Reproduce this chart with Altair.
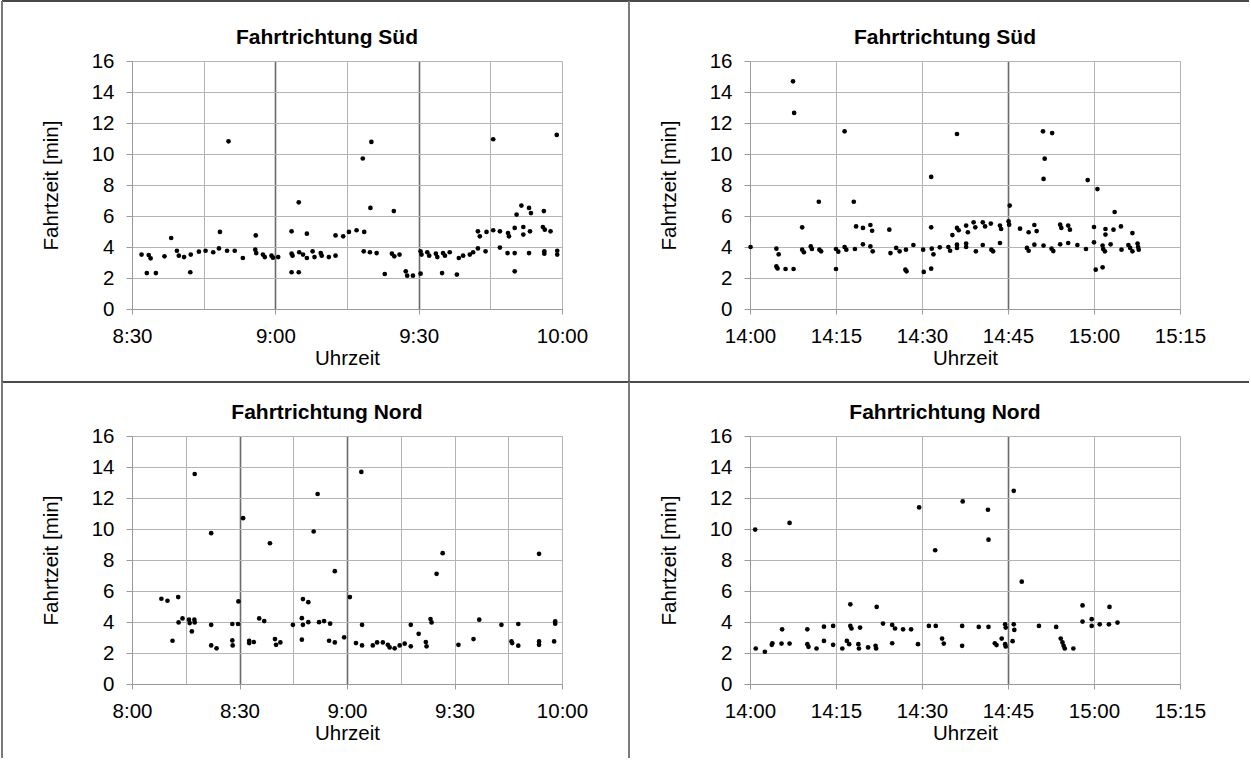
import altair as alt
import pandas as pd

# ---------------- data (clock time in minutes after midnight, travel time in min) ----
# Panel 1: Fahrtrichtung Süd, morning
sued_am_t = [512.0, 513.5, 513.9, 513.1, 515.0, 516.8, 518.2, 519.4, 519.8, 520.9,
             522.3, 522.2, 524.0, 525.4, 527.0, 528.2, 528.4, 529.9, 530.2, 531.5,
             533.2, 535.9, 535.8, 536.0, 537.4, 537.8, 539.2, 539.5, 540.6, 543.4,
             543.4, 543.6, 543.4, 544.9, 544.9, 545.0, 545.8, 546.6, 546.6, 547.8,
             548.2, 549.5, 549.7, 551.2, 552.6, 552.6, 554.2, 555.4, 557.0, 558.3,
             558.6, 558.5, 559.9, 559.8, 560.1, 561.2, 562.9, 564.4, 564.8, 564.9,
             566.0, 567.3, 567.6, 568.8, 570.4, 570.4, 570.6, 571.8, 572.2, 573.6,
             573.9, 574.9, 575.1, 575.5, 576.5, 578.0, 578.4, 579.3, 580.7, 581.4,
             582.4, 582.4, 582.8, 584.0, 584.2, 585.6, 585.6, 587.0, 587.0, 588.6,
             588.7, 588.9, 590.1, 590.5, 590.1, 590.1, 591.5, 591.9, 591.9, 593.1,
             593.5, 593.3, 593.1, 596.0, 596.2, 596.4, 596.3, 596.3, 597.6, 599.0,
             599.0, 598.9]
sued_am_v = [3.51, 3.48, 3.27, 2.32, 2.32, 3.40, 4.58, 3.76, 3.44, 3.35,
             3.51, 2.37, 3.70, 3.76, 3.66, 3.91, 4.97, 3.76, 10.82, 3.76,
             3.29, 4.75, 3.83, 3.61, 3.51, 3.35, 3.44, 3.31, 3.35, 5.01,
             3.57, 3.44, 2.37, 2.37, 6.88, 3.66, 3.51, 4.86, 3.29, 3.72,
             3.35, 3.61, 3.44, 3.35, 3.44, 4.75, 4.69, 4.97, 5.08, 9.71,
             4.97, 3.72, 6.52, 3.66, 10.78, 3.61, 2.26, 3.57, 6.32, 3.40,
             3.51, 2.43, 2.15, 2.15, 2.28, 3.72, 3.51, 3.66, 3.44, 3.57,
             3.35, 2.32, 3.61, 3.44, 3.66, 2.22, 3.29, 3.44, 3.51, 3.66,
             3.91, 5.01, 4.69, 3.72, 4.97, 5.08, 10.95, 5.01, 3.96, 3.61,
             4.90, 4.69, 5.23, 6.09, 3.61, 2.43, 6.67, 5.29, 4.80, 6.52,
             6.19, 5.01, 3.61, 5.29, 6.32, 5.12, 3.72, 3.57, 5.01, 3.76,
             3.51, 11.23]

# Panel 2: Fahrtrichtung Süd, afternoon
sued_pm_t = [840.1, 844.6, 845.0, 844.6, 844.8, 846.2, 847.6, 852.0, 849.1, 849.1,
             849.4, 850.6, 850.8, 852.1, 852.4, 855.0, 855.0, 855.4, 856.5, 856.8,
             858.1, 858.3, 858.5, 859.7, 859.7, 861.0, 861.3, 861.0, 861.4, 864.3,
             864.5, 865.5, 866.1, 867.2, 867.1, 867.3, 868.5, 870.2, 870.3, 871.6,
             871.6, 871.6, 871.7, 872.0, 873.1, 874.6, 874.9, 875.3, 876.1, 876.4,
             876.1, 876.1, 877.7, 878.0, 877.7, 877.7, 879.0, 879.3, 879.4, 880.6,
             881.0, 880.6, 882.0, 882.1, 882.4, 883.6, 883.8, 883.6, 885.1, 885.2,
             885.3, 887.1, 888.6, 888.3, 888.6, 889.6, 890.0, 889.6, 891.2, 891.2,
             892.6, 892.9, 894.1, 894.3, 894.1, 895.5, 895.8, 895.5, 897.1, 898.6,
             898.9, 900.0, 900.0, 900.3, 900.6, 901.5, 901.5, 901.6, 901.9, 902.0,
             902.0, 902.9, 903.4, 903.6, 904.7, 904.8, 906.0, 906.3, 906.7, 906.7,
             907.6, 907.7, 907.8, 847.5, 847.7, 856.5, 876.1, 891.1, 891.4, 892.7]
sued_pm_v = [4.00, 3.89, 3.53, 2.75, 2.62, 2.58, 2.58, 6.92, 5.27, 3.83,
             3.66, 4.04, 3.87, 3.83, 3.72, 2.58, 3.87, 3.70, 4.00, 3.83,
             6.92, 3.87, 5.33, 5.23, 4.17, 5.42, 5.05, 4.04, 3.72, 5.12,
             3.61, 3.94, 3.72, 3.83, 2.54, 2.43, 4.13, 3.83, 2.39, 2.60,
             8.52, 5.27, 3.89, 3.53, 3.98, 4.00, 3.76, 4.77, 5.23, 5.08,
             4.15, 3.94, 5.38, 4.95, 4.22, 4.00, 5.59, 5.27, 3.72, 5.59,
             5.33, 4.13, 5.51, 3.83, 3.72, 5.38, 5.16, 4.26, 5.66, 5.44,
             6.67, 5.18, 4.95, 3.94, 3.76, 5.42, 5.03, 4.15, 8.39, 4.09,
             3.89, 3.74, 5.44, 5.23, 4.17, 5.38, 5.12, 4.26, 4.13, 3.87,
             8.32, 5.29, 4.30, 2.54, 7.74, 2.69, 4.09, 3.87, 3.72, 5.16,
             4.80, 4.17, 5.12, 6.26, 5.33, 3.83, 4.13, 3.94, 4.90, 3.72,
             4.22, 4.00, 3.83, 14.69, 12.65, 11.46, 11.29, 11.46, 9.70, 11.35]

# Panel 3: Fahrtrichtung Nord, morning
nord_am_t = [488.2, 489.9, 491.3, 492.9, 493.0, 494.1, 495.9, 496.1, 496.7, 497.4,
             497.5, 497.5, 502.1, 502.1, 502.1, 503.6, 508.0, 508.0, 508.1, 509.6,
             509.7, 511.0, 512.7, 512.7, 514.0, 515.5, 516.9, 518.5, 519.9, 520.2,
             521.4, 524.9, 527.4, 527.4, 527.7, 527.7, 529.2, 529.2, 530.7, 531.8,
             532.2, 533.6, 535.0, 535.3, 536.6, 536.6, 539.2, 540.8, 542.5, 544.0,
             544.2, 544.2, 547.2, 548.4, 550.0, 551.4, 551.9, 553.3, 554.7, 556.1,
             557.8, 557.8, 560.0, 562.0, 562.2, 563.3, 563.6, 565.0, 566.7, 571.1,
             575.3, 576.9, 583.1, 585.9, 586.1, 587.8, 587.8, 593.6, 593.6, 593.6,
             597.8, 598.1, 598.1]
nord_am_v = [5.50, 5.37, 2.79, 5.61, 3.97, 4.23, 4.15, 3.93, 3.39, 4.15,
             3.97, 13.55, 9.73, 3.82, 2.49, 2.30, 3.87, 2.81, 2.49, 3.87,
             5.33, 10.70, 2.64, 2.79, 2.71, 4.23, 4.06, 9.08, 2.90, 2.53,
             2.68, 3.82, 4.25, 2.86, 3.82, 5.48, 5.28, 3.99, 9.84, 12.26,
             3.99, 4.06, 2.79, 3.89, 2.68, 7.28, 3.01, 5.61, 2.64, 13.68,
             3.82, 2.49, 2.49, 2.68, 2.68, 2.53, 2.36, 2.30, 2.49, 2.60,
             2.43, 3.82, 3.24, 2.71, 2.43, 4.19, 3.97, 7.11, 8.44, 2.53,
             2.90, 4.15, 3.82, 2.75, 2.64, 2.47, 3.87, 8.40, 2.75, 2.53,
             2.75, 4.04, 3.89]

# Panel 4: Fahrtrichtung Nord, afternoon
nord_pm_t = [840.9, 841.0, 842.6, 843.8, 843.9, 845.5, 845.6, 846.9, 846.9, 850.0,
             850.0, 850.2, 851.6, 852.9, 852.9, 854.5, 854.5, 856.1, 856.9, 857.3,
             857.5, 857.5, 857.7, 858.9, 859.0, 859.2, 860.6, 861.9, 862.0, 862.1,
             863.2, 864.8, 865.3, 864.8, 866.7, 868.1, 869.3, 869.5, 871.2, 872.4,
             872.3, 873.5, 873.8, 877.0, 877.0, 877.1, 879.9, 881.5, 881.6, 881.6,
             882.7, 883.0, 883.9, 884.5, 884.6, 884.5, 884.6, 886.0, 886.0, 886.1,
             885.8, 887.4, 890.4, 893.4, 894.2, 894.5, 894.7, 894.9, 896.4, 898.0,
             898.0, 899.6, 899.6, 901.0, 902.6, 902.7, 904.1]
nord_pm_v = [9.96, 2.29, 2.08, 2.53, 2.63, 2.61, 3.53, 2.61, 10.39, 3.53,
             2.57, 2.40, 2.29, 2.78, 3.70, 3.75, 2.53, 2.29, 2.78, 2.57,
             5.14, 3.75, 3.58, 2.57, 2.29, 3.64, 2.36, 2.46, 2.29, 4.97,
             3.90, 3.81, 3.58, 2.63, 3.53, 3.53, 2.57, 11.39, 3.75, 3.75,
             8.63, 2.93, 2.61, 3.75, 2.46, 11.78, 3.68, 11.24, 9.31, 3.68,
             2.63, 2.51, 2.93, 3.85, 3.64, 2.57, 2.42, 12.46, 3.85, 3.49,
             2.76, 6.60, 3.75, 3.68, 2.93, 2.68, 2.46, 2.29, 2.29, 5.07,
             4.03, 4.18, 3.75, 3.85, 3.85, 4.97, 3.96]

titles = ["Fahrtrichtung Süd", "Fahrtrichtung Süd", "Fahrtrichtung Nord", "Fahrtrichtung Nord"]
x_domains = [(510, 600), (840, 915), (480, 600), (840, 915)]
label_steps = [30, 15, 30, 15]
dark_grid = [[540, 570], [885], [510, 540], [885]]
y_ticks = [0, 2, 4, 6, 8, 10, 12, 14, 16]
x_title = "Uhrzeit"
y_title = "Fahrtzeit [min]"

# ---------------- layout / style ----------------
FONT = "Liberation Sans"
W, H = 430, 248
# frame lines per panel (relative to plot area): left x, top y, right end, bottom end
frames = [(-130, -60, 497, 321), (-121, -60, 499, 321),
          (-130, -54, 497, 322), (-121, -54, 499, 322)]


def panel(i, t, v):
    xmin, xmax = x_domains[i]
    step = label_steps[i]
    df = pd.DataFrame({"t": t, "v": v})
    one = pd.DataFrame({"title": [titles[i]]})
    label_test = f"(datum.value - {xmin}) % {step} == 0"
    dark_test = " || ".join(f"datum.value == {d}" for d in dark_grid[i])
    fmt = ("floor(datum.value / 60) + ':' + (datum.value % 60 < 10 ? '0' : '') + (datum.value % 60)")
    xaxis = alt.Axis(
        values=list(range(xmin, xmax + 1, 15)),
        labelExpr=f"{label_test} ? {fmt} : ''",
        labelFlush=False, labelOverlap=False,
        grid=True,
        gridColor={"condition": {"test": dark_test, "value": "#6a6a6a"}, "value": "#b4b4b4"},
        gridWidth={"condition": {"test": dark_test, "value": 1.6}, "value": 1},
        tickOpacity={"condition": {"test": label_test, "value": 1}, "value": 0},
        tickSize=5, labelPadding=12,
        title=x_title, titleX=W / 2, titleY=49, titleBaseline="middle", titleAlign="center",
    )
    yaxis = alt.Axis(
        values=y_ticks, grid=True, gridColor="#b4b4b4", gridWidth=1,
        tickSize=6, labelPadding=12,
        title=y_title, titleX=-81, titleY=H / 2, titleBaseline="middle", titleAlign="center",
    )
    pts = alt.Chart(df).mark_circle(size=22, color="black", opacity=1).encode(
        x=alt.X("t:Q", scale=alt.Scale(domain=[xmin, xmax], nice=False, zero=False), axis=xaxis),
        y=alt.Y("v:Q", scale=alt.Scale(domain=[0, 16], nice=False), axis=yaxis),
    )
    fx, fy, fr, fb = frames[i]
    top_line = alt.Chart(one).mark_rule(color="#4a4a4a", strokeWidth=2).encode(
        x=alt.value(fx), x2=alt.value(fr), y=alt.value(fy))
    left_line = alt.Chart(one).mark_rule(color="#7a7a7a", strokeWidth=2).encode(
        x=alt.value(fx), y=alt.value(fy), y2=alt.value(fb))
    title = alt.Chart(one).mark_text(
        font=FONT, fontSize=21, fontWeight="bold", color="black",
        align="center", baseline="alphabetic",
    ).encode(text="title:N", x=alt.value(W / 2 - 20), y=alt.value(-17))
    return alt.layer(top_line, left_line, pts, title).properties(width=W, height=H)


charts = [panel(0, sued_am_t, sued_am_v), panel(1, sued_pm_t, sued_pm_v),
          panel(2, nord_am_t, nord_am_v), panel(3, nord_pm_t, nord_pm_v)]

chart = alt.concat(*charts, columns=2, spacing={"row": 127, "column": 188}, bounds="flush").properties(
    padding={"left": 1, "top": 0, "right": 0, "bottom": 0},
    background="white",
).configure_view(strokeOpacity=0).configure_axis(
    domainColor="#9a9a9a", tickColor="#9a9a9a", domainWidth=1, tickWidth=1,
    labelFont=FONT, labelFontSize=20.5, labelColor="black",
    titleFont=FONT, titleFontSize=20.5, titleFontWeight="normal", titleColor="black",
)

chart.save("out.html", embed_options={"renderer": "svg", "actions": False})
